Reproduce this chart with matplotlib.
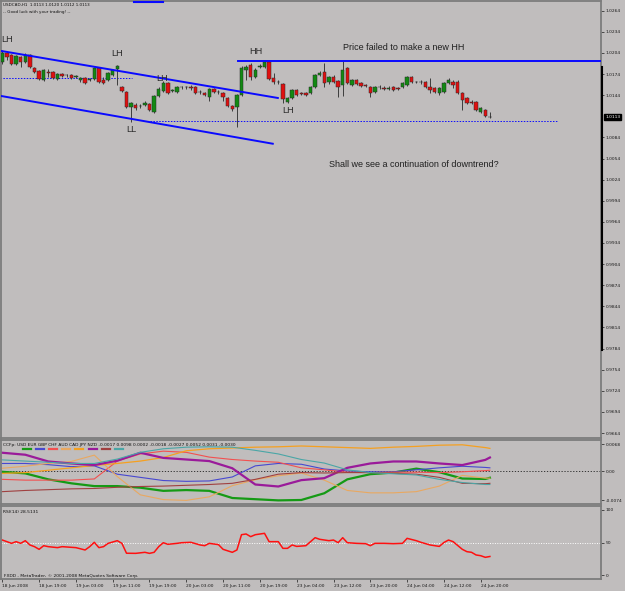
"""MetaTrader style USDCAD H1 chart with CCFp and RSI sub-windows."""
import numpy as np
import matplotlib
matplotlib.use("Agg")
import matplotlib.pyplot as plt
from matplotlib.lines import Line2D

# ---- candle data (USDCAD H1, bar 0 = 18 Jun 2008 11:00) ----
opens = [1.0191, 1.0204, 1.0201, 1.0188, 1.0198, 1.0191, 1.0201, 1.0183, 1.0178, 1.0166,
         1.0177, 1.0177, 1.0167, 1.0174, 1.0173, 1.0173, 1.0170, 1.0166, 1.0168, 1.0166,
         1.0167, 1.0183, 1.0166, 1.0166, 1.0173, 1.0181, 1.0156, 1.0149, 1.0127, 1.0130,
         1.0129, 1.0130, 1.0131, 1.0120, 1.0143, 1.0150, 1.0161, 1.0150, 1.0149, 1.0156,
         1.0155, 1.0156, 1.0156, 1.0149, 1.0147, 1.0141, 1.0153, 1.0149, 1.0147, 1.0140,
         1.0129, 1.0127, 1.0144, 1.0180, 1.0187, 1.0170, 1.0184, 1.0184, 1.0191, 1.0168,
         1.0163, 1.0160, 1.0134, 1.0140, 1.0151, 1.0147, 1.0147, 1.0147, 1.0156, 1.0173,
         1.0177, 1.0163, 1.0170, 1.0164, 1.0158, 1.0183, 1.0158, 1.0166, 1.0161, 1.0158,
         1.0156, 1.0149, 1.0155, 1.0154, 1.0153, 1.0156, 1.0154, 1.0156, 1.0158, 1.0170,
         1.0163, 1.0163, 1.0163, 1.0156, 1.0154, 1.0147, 1.0149, 1.0161, 1.0163, 1.0163,
         1.0147, 1.0140, 1.0134, 1.0134, 1.0120, 1.0123, 1.0113]
closes = [1.0204, 1.0198, 1.0188, 1.0200, 1.0191, 1.0201, 1.0184, 1.0177, 1.0167, 1.0180,
          1.0176, 1.0168, 1.0174, 1.0171, 1.0172, 1.0168, 1.0171, 1.0168, 1.0161, 1.0167,
          1.0183, 1.0163, 1.0161, 1.0176, 1.0180, 1.0185, 1.0150, 1.0127, 1.0133, 1.0126,
          1.0128, 1.0133, 1.0123, 1.0143, 1.0153, 1.0161, 1.0147, 1.0151, 1.0156, 1.0155,
          1.0156, 1.0154, 1.0147, 1.0148, 1.0144, 1.0153, 1.0149, 1.0148, 1.0141, 1.0129,
          1.0124, 1.0144, 1.0183, 1.0184, 1.0170, 1.0180, 1.0185, 1.0191, 1.0167, 1.0163,
          1.0162, 1.0139, 1.0140, 1.0151, 1.0144, 1.0146, 1.0144, 1.0156, 1.0173, 1.0176,
          1.0161, 1.0170, 1.0163, 1.0156, 1.0180, 1.0161, 1.0166, 1.0160, 1.0157, 1.0157,
          1.0147, 1.0156, 1.0156, 1.0153, 1.0154, 1.0151, 1.0153, 1.0161, 1.0170, 1.0163,
          1.0162, 1.0162, 1.0156, 1.0151, 1.0149, 1.0154, 1.0161, 1.0166, 1.0158, 1.0147,
          1.0137, 1.0133, 1.0133, 1.0123, 1.0126, 1.0114, 1.0113]
highs = [1.0208, 1.0207, 1.0203, 1.0201, 1.0200, 1.0204, 1.0203, 1.0184, 1.0180, 1.0181,
         1.0181, 1.0178, 1.0176, 1.0176, 1.0174, 1.0174, 1.0173, 1.0170, 1.0170, 1.0168,
         1.0184, 1.0184, 1.0170, 1.0177, 1.0181, 1.0187, 1.0157, 1.0150, 1.0134, 1.0133,
         1.0131, 1.0136, 1.0133, 1.0144, 1.0156, 1.0164, 1.0163, 1.0153, 1.0157, 1.0157,
         1.0157, 1.0158, 1.0157, 1.0151, 1.0149, 1.0154, 1.0154, 1.0151, 1.0149, 1.0141,
         1.0130, 1.0146, 1.0185, 1.0187, 1.0190, 1.0183, 1.0188, 1.0193, 1.0193, 1.0176,
         1.0166, 1.0161, 1.0141, 1.0153, 1.0153, 1.0149, 1.0149, 1.0157, 1.0174, 1.0178,
         1.0190, 1.0171, 1.0173, 1.0166, 1.0193, 1.0184, 1.0167, 1.0167, 1.0163, 1.0160,
         1.0157, 1.0157, 1.0158, 1.0157, 1.0157, 1.0157, 1.0156, 1.0163, 1.0171, 1.0171,
         1.0164, 1.0166, 1.0164, 1.0168, 1.0156, 1.0156, 1.0163, 1.0168, 1.0166, 1.0166,
         1.0149, 1.0141, 1.0137, 1.0136, 1.0127, 1.0124, 1.0120]
lows = [1.0188, 1.0194, 1.0187, 1.0187, 1.0184, 1.0190, 1.0183, 1.0176, 1.0166, 1.0164,
        1.0170, 1.0167, 1.0166, 1.0170, 1.0170, 1.0167, 1.0168, 1.0163, 1.0160, 1.0164,
        1.0166, 1.0161, 1.0160, 1.0164, 1.0171, 1.0158, 1.0149, 1.0126, 1.0106, 1.0123,
        1.0126, 1.0129, 1.0121, 1.0119, 1.0141, 1.0149, 1.0146, 1.0149, 1.0147, 1.0153,
        1.0153, 1.0151, 1.0146, 1.0146, 1.0143, 1.0136, 1.0147, 1.0146, 1.0136, 1.0127,
        1.0121, 1.0099, 1.0143, 1.0166, 1.0166, 1.0168, 1.0183, 1.0183, 1.0166, 1.0160,
        1.0160, 1.0133, 1.0133, 1.0139, 1.0143, 1.0144, 1.0143, 1.0146, 1.0154, 1.0171,
        1.0156, 1.0160, 1.0161, 1.0141, 1.0143, 1.0160, 1.0157, 1.0158, 1.0156, 1.0156,
        1.0141, 1.0147, 1.0153, 1.0151, 1.0151, 1.0150, 1.0151, 1.0154, 1.0157, 1.0161,
        1.0161, 1.0160, 1.0154, 1.0147, 1.0147, 1.0144, 1.0147, 1.0160, 1.0154, 1.0146,
        1.0123, 1.0131, 1.0131, 1.0121, 1.0119, 1.0113, 1.0112]

# ---- hand-drawn objects: (bar, price) ends ----
chan_upper = [(-0.4, 1.0207), (59.9, 1.0140)]
chan_lower = [(-0.4, 1.0143), (58.8, 1.0075)]
hh_level = 1.01926
hh_from_bar = 51.2
dot_upper = (1.0169, -0.4, 28.2)
dot_lower = (1.0107, 32.1, 120.8)
labels = [("LH", -0.3, 1.02231, "left"), ("LH", 24.9, 1.02025, "center"),
          ("LH", 34.8, 1.0167, "center"), ("LL", 28.1, 1.00959, "center"),
          ("HH", 55.2, 1.02061, "center"), ("LH", 62.1, 1.01229, "center")]
note_top = ("Price failed to make a new HH", 87.2, 1.02118)
note_mid = ("Shall we see a continuation of downtrend?", 89.4, 1.00448)

price_ticks = [1.0264, 1.0234, 1.0204, 1.0174, 1.0144, 1.0084, 1.0054, 1.0024, 0.9994,
               0.9964, 0.9934, 0.9904, 0.9874, 0.9844, 0.9814, 0.9784, 0.9754, 0.9724,
               0.9694, 0.9664]
last_price = 1.0113

time_bars = [0, 8, 16, 24, 32, 40, 48, 56, 64, 72, 80, 88, 96, 104]
time_labels = ["18 Jun 2008", "18 Jun 19:00", "19 Jun 03:00", "19 Jun 11:00",
               "19 Jun 19:00", "20 Jun 03:00", "20 Jun 11:00", "20 Jun 19:00",
               "23 Jun 04:00", "23 Jun 12:00", "23 Jun 20:00", "24 Jun 04:00",
               "24 Jun 12:00", "24 Jun 20:00"]

# ---- CCFp currency strength (sampled bars) ----
ccf_bars = [0, 5, 10, 15, 20, 25, 30, 35, 40, 45, 50, 55, 60, 65, 70, 75, 80, 85, 90,
            95, 100, 105, 106]
ccf_usd = [-0.0002, -0.0006, -0.0021, -0.0031, -0.0038, -0.0038, -0.0042, -0.0050, -0.0048,
           -0.0050, -0.0068, -0.0071, -0.0074, -0.0073, -0.0056, -0.0021, -0.0008, -0.0004,
           0.0006, -0.0003, -0.0019, -0.0020, -0.0017]
ccf_eur = [0.0019, 0.0019, 0.0016, 0.0011, 0.0013, -0.0008, -0.0016, -0.0024, -0.0026,
           -0.0025, -0.0015, 0.0013, 0.0019, 0.0017, 0.0005, 0.0000, -0.0002, -0.0002,
           0.0003, 0.0008, 0.0012, 0.0009, 0.0008]
ccf_gbp = [-0.0021, -0.0023, -0.0023, -0.0023, -0.0020, 0.0025, 0.0043, 0.0050, 0.0047,
           0.0035, 0.0029, 0.0025, 0.0022, 0.0008, 0.0003, -0.0003, -0.0004, -0.0003,
           -0.0003, -0.0004, -0.0002, 0.0001, 0.0002]
ccf_chf = [0.0007, 0.0012, 0.0019, 0.0024, 0.0040, -0.0014, -0.0060, -0.0072, -0.0074,
           -0.0065, -0.0037, -0.0022, -0.0012, -0.0005, -0.0023, -0.0049, -0.0055, -0.0055,
           -0.0052, -0.0038, -0.0011, -0.0018, -0.0018]
ccf_aud = [-0.0006, -0.0004, 0.0002, 0.0008, 0.0014, 0.0019, 0.0025, 0.0034, 0.0051,
           0.0056, 0.0058, 0.0060, 0.0061, 0.0063, 0.0061, 0.0059, 0.0057, 0.0060, 0.0062,
           0.0065, 0.0066, 0.0059, 0.0057]
ccf_cad = [0.0046, 0.0041, 0.0024, 0.0019, 0.0015, 0.0026, 0.0046, 0.0033, 0.0029,
           0.0025, 0.0007, -0.0034, -0.0039, -0.0023, -0.0018, 0.0008, 0.0019, 0.0024,
           0.0024, 0.0019, 0.0015, 0.0028, 0.0034]
ccf_jpy = [-0.0052, -0.0049, -0.0047, -0.0045, -0.0044, -0.0041, -0.0039, -0.0038, -0.0036,
           -0.0034, -0.0031, -0.0021, -0.0008, -0.0004, -0.0005, -0.0004, -0.0004, -0.0006,
           -0.0008, -0.0016, -0.0031, -0.0032, -0.0031]
ccf_nzd = [0.0028, 0.0025, 0.0022, 0.0019, 0.0019, 0.0030, 0.0047, 0.0056, 0.0060,
           0.0061, 0.0060, 0.0052, 0.0043, 0.0029, 0.0020, 0.0003, -0.0004, -0.0007,
           -0.0010, -0.0021, -0.0029, -0.0034, -0.0034]
ccf_ticks = [0.0068, 0.0, -0.0074]
ccf_ticklabels = ["0.0068", "0.00", "-0.0074"]

# ---- RSI(14) ----
rsi_bars = [0, 1, 2, 3, 4, 5, 6, 7, 8, 9, 10, 12, 13, 16, 18, 19, 20, 21, 22, 23, 25, 26,
            27, 29, 31, 32, 33, 34, 35, 36, 38, 39, 41, 43, 44, 45, 47, 48, 50, 51, 52, 53,
            54, 55, 57, 58, 60, 61, 62, 63, 64, 66, 68, 69, 71, 72, 73, 74, 75, 77, 79, 80,
            81, 83, 85, 87, 88, 90, 91, 93, 95, 96, 97, 98, 100, 101, 102, 103, 104, 105, 106]
rsi_vals = [53.8, 51.3, 48.7, 51.3, 48.7, 52.8, 46.2, 43.6, 39.5, 45.1, 43.6, 42.1, 43.6,
            42.1, 38.5, 43.6, 50.3, 42.1, 43.6, 48.7, 52.8, 48.7, 33.5, 33.3, 34.9, 33.3,
            34.9, 43.6, 49.7, 47.2, 48.7, 49.7, 50.3, 46.2, 45.1, 48.7, 46.7, 39.5, 34.9,
            38.5, 62.0, 63.1, 59.0, 62.0, 64.1, 51.3, 51.3, 41.0, 41.0, 46.2, 44.0, 45.1,
            57.4, 54.9, 52.8, 53.8, 49.7, 57.4, 49.7, 48.7, 48.2, 45.1, 48.7, 48.7, 48.2,
            48.7, 56.4, 52.8, 50.3, 46.2, 44.0, 50.0, 53.8, 51.3, 39.5, 35.9, 34.9, 30.8,
            29.7, 27.2, 28.5]
rsi_ticks = [100, 50, 0]

W, H = 625, 591
BG = "#c0bdbd"
FRAME = "#7c7c7c"
SMALL = 3.2


def box(x0, y0, x1, y1):
    return [x0 / W, 1 - y1 / H, (x1 - x0) / W, (y1 - y0) / H]


def fx(px):
    return px / W


def fy(py):
    return 1 - py / H


def style(ax, ylim):
    ax.set_facecolor(BG)
    ax.set_xlim(-0.39, 130.15)
    ax.set_ylim(*ylim)
    for s in ax.spines.values():
        s.set_color(FRAME)
        s.set_linewidth(1.3)
    ax.yaxis.tick_right()
    ax.tick_params(axis="y", direction="out", length=2, width=0.5, pad=1.2,
                   labelsize=SMALL, colors="#1a1a1a")
    ax.tick_params(axis="x", bottom=False, labelbottom=False)


fig = plt.figure(figsize=(W / 100, H / 100), dpi=100, facecolor=BG)

# ---- main price window ----
ax = fig.add_axes(box(0.5, 0.5, 601, 438))
style(ax, (0.96569, 1.02785))
x = np.arange(len(opens))
o = np.array(opens); c = np.array(closes)
ax.vlines(x, lows, highs, color="#3c3c3c", lw=0.7, zorder=2)
up = c >= o
body_lo = np.minimum(o, c)
body_h = np.maximum(np.abs(c - o), 0.00004)
ax.bar(x, body_h, bottom=body_lo, width=0.7,
       color=np.where(up, "#128a12", "#e01010"), edgecolor="#2a2a2a", linewidth=0.35,
       zorder=3)
ax.set_yticks(price_ticks, [f"{t:.4f}" for t in price_ticks])

blue = "#0a0aff"
ax.plot(*zip(*chan_upper), color=blue, lw=1.4, zorder=4)
ax.plot(*zip(*chan_lower), color=blue, lw=1.4, zorder=4)
ax.plot([hh_from_bar, 130.15], [hh_level, hh_level], color=blue, lw=1.4, zorder=4)
ax.plot(dot_upper[1:], [dot_upper[0]] * 2, color=blue, lw=0.7, ls=(0, (1.5, 1.5)), zorder=1)
ax.plot(dot_lower[1:], [dot_lower[0]] * 2, color=blue, lw=0.7, ls=(0, (1.5, 1.5)), zorder=1)

for txt, bx, py, ha in labels:
    ax.text(bx, py, txt, ha=ha, va="center", fontsize=6.6, color="#2a2a2a",
            family="Liberation Sans", zorder=5)
for txt, bx, py in (note_top, note_mid):
    ax.text(bx, py, txt, ha="center", va="center", fontsize=6.5, color="#202020",
            family="Liberation Sans", zorder=5)

fig.add_artist(Line2D([fx(601.5), fx(601.5)], [fy(67), fy(350)], color="black", lw=1.5))
ax.annotate(f"{last_price:.4f}", xy=(1.0, last_price), xycoords=ax.get_yaxis_transform(),
            xytext=(3.0, 0), textcoords="offset points", ha="left", va="center",
            fontsize=SMALL, color="white", annotation_clip=False,
            bbox=dict(boxstyle="square,pad=0.2", fc="black", ec="black"), zorder=6)

fig.text(fx(3), fy(5.5), "USDCAD,H1  1.0113 1.0120 1.0112 1.0113", fontsize=3.0,
         color="#101010", va="center")
fig.text(fx(3), fy(11.5), "-- Good luck with your trading! --", fontsize=3.0,
         color="#101010", va="center")
fig.add_artist(Line2D([fx(134), fx(163)], [fy(1.5), fy(1.5)], color=blue, lw=1.5))

# ---- CCFp window ----
ax2 = fig.add_axes(box(0.5, 440, 601, 504))
style(ax2, (-0.00831, 0.00781))
ax2.axhline(0, color="#202020", lw=0.6, ls=(0, (1.5, 2)))
ccf_series = [("USD", ccf_usd, "#159a15", 1.6), ("EUR", ccf_eur, "#4848d0", 0.8),
              ("GBP", ccf_gbp, "#f25050", 0.8), ("CHF", ccf_chf, "#e9a860", 0.8),
              ("AUD", ccf_aud, "#f5a020", 0.9), ("CAD", ccf_cad, "#9a1a9a", 1.6),
              ("JPY", ccf_jpy, "#a04040", 0.8), ("NZD", ccf_nzd, "#4aa6a6", 0.8)]
for name, vals, col, lw in ccf_series:
    ax2.plot(ccf_bars, vals, color=col, lw=lw)
ax2.set_yticks(ccf_ticks, ccf_ticklabels)
fig.text(fx(3), fy(445), "CCFp: USD EUR GBP CHF AUD CAD JPY NZD -0.0017 0.0098 0.0002 "
         "-0.0018 -0.0027 0.0052 0.0031 -0.0030", fontsize=SMALL, color="#101010",
         va="center")
for k, (name, vals, col, lw) in enumerate(ccf_series):
    cx = 27 + 13.1 * k
    fig.add_artist(Line2D([fx(cx - 4), fx(cx + 4)], [fy(449), fy(449)], color=col, lw=1.6))

# ---- RSI window ----
ax3 = fig.add_axes(box(0.5, 506, 601, 579))
style(ax3, (-6.15, 106.15))
ax3.axhline(50, color="white", lw=0.7, ls=(0, (1, 1.5)))
ax3.plot(rsi_bars, rsi_vals, color="#ff1010", lw=1.1)
ax3.set_yticks(rsi_ticks, [str(t) for t in rsi_ticks])
ax3.tick_params(axis="x", bottom=True, labelbottom=True, direction="out", length=2,
                width=0.5, pad=1.5, labelsize=SMALL, colors="#1a1a1a")
ax3.set_xticks(time_bars, time_labels, ha="left")
fig.text(fx(3), fy(512), "RSI(14) 28.5131", fontsize=SMALL, color="#101010", va="center")
fig.text(fx(4), fy(575.5), "FXDD - MetaTrader, \u00a9 2001-2008 MetaQuotes Software Corp.",
         fontsize=SMALL, color="#101010", va="center")

fig.savefig("out.png", dpi=100, facecolor=BG)
